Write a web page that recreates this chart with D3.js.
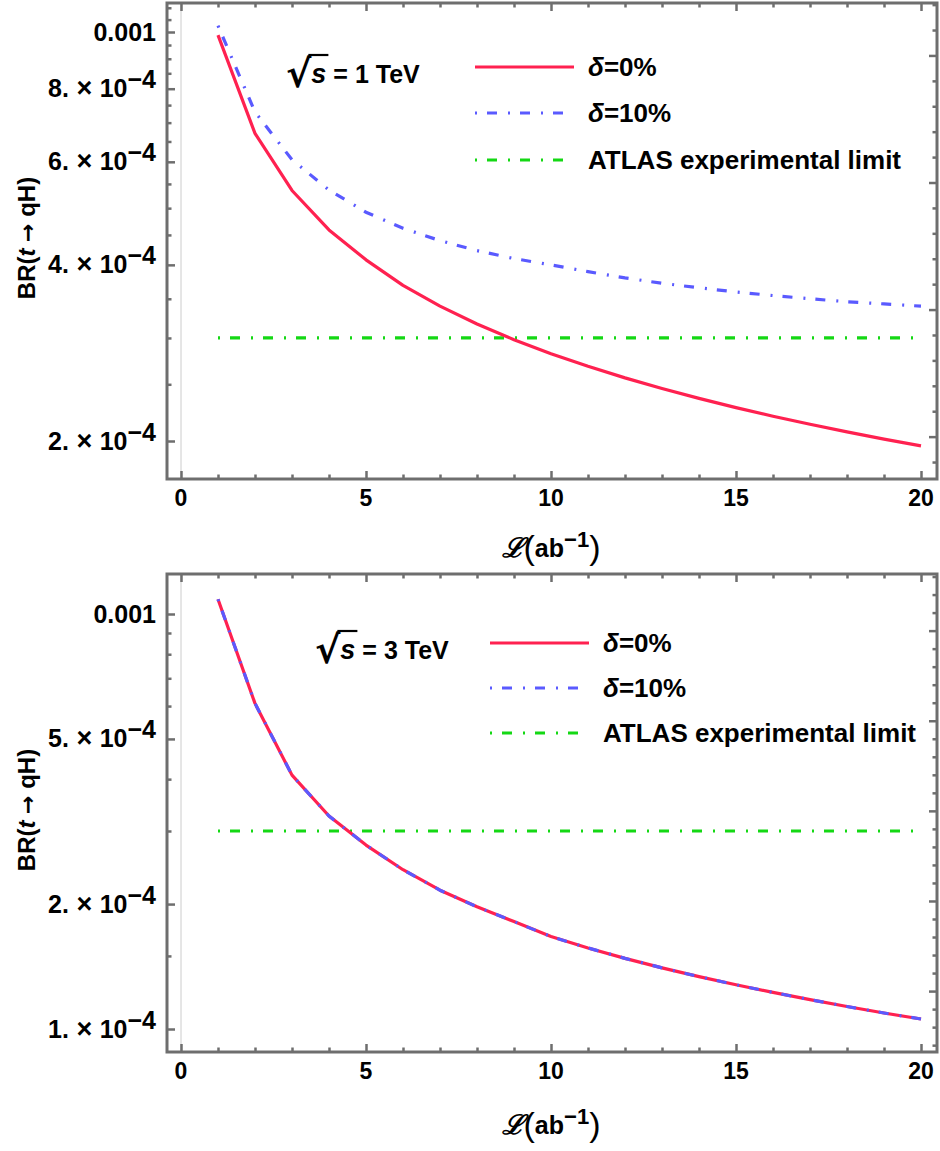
<!DOCTYPE html>
<html><head><meta charset="utf-8">
<script src="https://cdn.jsdelivr.net/npm/d3@7"></script>
<style>
body{margin:0;background:#fff}
svg{display:block}
text{font-family:"Liberation Sans",Arial,sans-serif;font-weight:bold;fill:#000}
</style>
</head><body><svg id="c" width="940" height="1151"></svg>
<script>
// ---------------- DATA ----------------
const lumi = [1,2,3,4,5,6,7,8,9,10,11,12,13,14,15,16,17,18,19,20];
// sqrt(s) = 1 TeV
const br1_d0  = [9.88e-4,6.71e-4,5.36e-4,4.59e-4,4.08e-4,3.69e-4,3.40e-4,3.17e-4,2.98e-4,2.82e-4,
                 2.683e-4,2.564e-4,2.459e-4,2.365e-4,2.281e-4,2.205e-4,2.136e-4,2.073e-4,2.015e-4,1.962e-4];
const br1_d10 = [1.025e-3,7.30e-4,6.05e-4,5.37e-4,4.92e-4,4.62e-4,4.40e-4,4.23e-4,4.10e-4,4.00e-4,
                 3.895e-4,3.80e-4,3.72e-4,3.655e-4,3.595e-4,3.545e-4,3.50e-4,3.46e-4,3.43e-4,3.40e-4];
// sqrt(s) = 3 TeV
const br3_d0  = [1.085e-3,6.09e-4,4.09e-4,3.26e-4,2.775e-4,2.42e-4,2.16e-4,1.97e-4,1.815e-4,1.67e-4,
                 1.568e-4,1.48e-4,1.404e-4,1.337e-4,1.278e-4,1.225e-4,1.177e-4,1.133e-4,1.093e-4,1.057e-4];
const br3_d10 = [1.085e-3,6.09e-4,4.09e-4,3.26e-4,2.775e-4,2.42e-4,2.16e-4,1.97e-4,1.815e-4,1.67e-4,
                 1.568e-4,1.48e-4,1.404e-4,1.337e-4,1.278e-4,1.225e-4,1.177e-4,1.133e-4,1.093e-4,1.057e-4];
const atlasLimit = 3.0e-4;

const legendLabels = ["=0%", "=10%", "ATLAS experimental limit"];
const energies = ["1", "3"];

const xMajor = [0,5,10,15,20];
const xMinor = [1,2,3,4,6,7,8,9,11,12,13,14,16,17,18,19];

const yMajor1 = [2e-4,4e-4,6e-4,8e-4,1e-3];
const yLab1   = [["2.","−4"],["4.","−4"],["6.","−4"],["8.","−4"],["0.001",null]];
const yMinor1 = [2.5e-4,3e-4,3.5e-4,4.5e-4,5e-4,5.5e-4,6.5e-4,7e-4,7.5e-4,8.5e-4,9e-4,9.5e-4,1.05e-3,1.1e-3];
const lnMajor1 = [-8.5,-8,-7.5,-7];
const lnRange1 = [-8.6,-6.8];

const yMajor3 = [1e-4,2e-4,5e-4,1e-3];
const yLab3   = [["1.","−4"],["2.","−4"],["5.","−4"],["0.001",null]];
const yMinor3 = [1.5e-4,3e-4,4e-4,6e-4,7e-4,8e-4,9e-4];
const lnMajor3 = [-9,-8.5,-8,-7.5,-7];
const lnRange3 = [-9.3,-6.7];

// ---------------- STYLE / LAYOUT ----------------
const RED = "#ff2150", BLUE = "#5a5aff", GREEN = "#14d814", FRAME = "#6e6e6e";
const DASH = "2,10,10,11";
const svg = d3.select("#c");

const panels = [
  {f:{l:167,r:937,t:3,b:479}, yRng:[441,32], yDom:[2e-4,1e-3], s0:br1_d0, s10:br1_d10,
   yMajor:yMajor1, yLab:yLab1, yMinor:yMinor1, lnMajor:lnMajor1, lnRange:lnRange1,
   energy:energies[0], legX:475, legY:[67,113,160], legTx:588, sqX:286, sqY:83, ylabY:238, xlabY:557},
  {f:{l:167,r:937,t:574,b:1052}, yRng:[1029,614], yDom:[1e-4,1e-3], s0:br3_d0, s10:br3_d10,
   yMajor:yMajor3, yLab:yLab3, yMinor:yMinor3, lnMajor:lnMajor3, lnRange:lnRange3,
   energy:energies[1], legX:490, legY:[643,688,733], legTx:603, sqX:315, sqY:659, ylabY:810, xlabY:1134}
];

panels.forEach(p => {
  const f = p.f;
  const g = svg.append("g");
  const x = d3.scaleLinear().domain([0,20]).range([181,921]);
  const y = d3.scaleLog().domain(p.yDom).range(p.yRng);

  // zero axis line
  g.append("line").attr("x1",x(0)).attr("x2",x(0)).attr("y1",f.t).attr("y2",f.b)
    .attr("stroke","#cccccc").attr("stroke-width",1);

  // ticks
  function tk(axis, tr){
    g.append("g").attr("transform",tr).attr("color",FRAME).call(axis.tickFormat(""))
     .call(s=>{s.select(".domain").remove(); s.selectAll("line").attr("stroke-width",2.5);});
  }
  tk(d3.axisBottom(x).tickValues(xMajor).tickSize(-8), `translate(0,${f.b})`);
  tk(d3.axisBottom(x).tickValues(xMinor).tickSize(-4.5), `translate(0,${f.b})`);
  tk(d3.axisTop(x).tickValues(xMajor).tickSize(-8), `translate(0,${f.t})`);
  tk(d3.axisTop(x).tickValues(xMinor).tickSize(-4.5), `translate(0,${f.t})`);
  tk(d3.axisLeft(y).tickValues(p.yMajor).tickSize(-8), `translate(${f.l},0)`);
  tk(d3.axisLeft(y).tickValues(p.yMinor).tickSize(-4.5), `translate(${f.l},0)`);
  const lnAll = d3.range(Math.round(p.lnRange[0]*10), Math.round(p.lnRange[1]*10)+1).map(v=>v/10)
      .filter(v=>!p.lnMajor.some(m=>Math.abs(m-v)<1e-9));
  tk(d3.axisRight(y).tickValues(p.lnMajor.map(Math.exp)).tickSize(-8), `translate(${f.r},0)`);
  tk(d3.axisRight(y).tickValues(lnAll.map(Math.exp)).tickSize(-4.5), `translate(${f.r},0)`);

  // frame
  g.append("rect").attr("x",f.l).attr("y",f.t).attr("width",f.r-f.l).attr("height",f.b-f.t)
    .attr("fill","none").attr("stroke",FRAME).attr("stroke-width",3);

  // x tick labels
  g.selectAll(".xl").data(xMajor).enter().append("text")
    .attr("x",d=>x(d)).attr("y",f.b+27).attr("text-anchor","middle")
    .attr("font-size",23).text(d=>d);

  // y tick labels
  p.yMajor.forEach((v,i)=>{
    const lab = p.yLab[i];
    const t = g.append("text").attr("x",156).attr("y",y(v)+8.5).attr("text-anchor","end").attr("font-size",25);
    if(lab[1]===null){ t.text(lab[0]); }
    else {
      t.append("tspan").text(lab[0]);
      t.append("tspan").attr("font-size",27).text(" × ");
      t.append("tspan").text("10");
      t.append("tspan").attr("dy",-9).text(lab[1]);
    }
  });

  // lines
  const line = d3.line().x(d=>x(d[0])).y(d=>y(d[1]));
  const lim = [[lumi[0],atlasLimit],[lumi[lumi.length-1],atlasLimit]];
  g.append("path").attr("d",line(lim)).attr("fill","none").attr("stroke",GREEN)
    .attr("stroke-width",3.2).attr("stroke-dasharray",DASH);
  g.append("path").attr("d",line(lumi.map((l,i)=>[l,p.s0[i]]))).attr("fill","none")
    .attr("stroke",RED).attr("stroke-width",3.2).attr("stroke-linejoin","round");
  g.append("path").attr("d",line(lumi.map((l,i)=>[l,p.s10[i]]))).attr("fill","none")
    .attr("stroke",BLUE).attr("stroke-width",3.2).attr("stroke-dasharray",DASH);

  // legend
  const cols = [RED,BLUE,GREEN];
  cols.forEach((c,i)=>{
    const ly = p.legY[i];
    const ln = g.append("line").attr("x1",p.legX).attr("x2",p.legX+99).attr("y1",ly).attr("y2",ly)
      .attr("stroke",c).attr("stroke-width",3.2);
    if(i>0) ln.attr("stroke-dasharray",DASH);
    const t = g.append("text").attr("x",p.legTx).attr("y",ly+9).attr("font-size",26);
    if(i<2){
      t.append("tspan").attr("font-style","italic").text("δ");
    }
    t.append("tspan").text(legendLabels[i]);
  });

  // sqrt(s) label
  const st = g.append("text").attr("x",p.sqX).attr("y",p.sqY).attr("font-size",25);
  st.append("tspan").attr("font-size",38).attr("font-family","DejaVu Sans").attr("font-weight","bold").attr("dy",4).text("√");
  st.append("tspan").attr("font-style","italic").attr("font-size",27).attr("dy",-4).text("s");
  st.append("tspan").text(" = " + p.energy + " TeV");
  const n = st.node();
  const e0 = n.getExtentOfChar(0), e1 = n.getExtentOfChar(1);
  g.append("line").attr("x1",e0.x+e0.width-3).attr("x2",e1.x+e1.width+2)
    .attr("y1",p.sqY-28).attr("y2",p.sqY-28).attr("stroke","#000").attr("stroke-width",2.2);

  // axis labels
  const xl = g.append("text").attr("x",x(10)).attr("y",p.xlabY).attr("text-anchor","middle").attr("font-size",25);
  xl.append("tspan").attr("font-family","DejaVu Serif").attr("font-style","italic").attr("font-size",27).text("ℒ");
  xl.append("tspan").attr("font-size",34).attr("font-weight","normal").attr("dy",2).text("(");
  xl.append("tspan").attr("dy",-2).text("ab");
  xl.append("tspan").attr("font-size",22).attr("dy",-10).text("−1");
  xl.append("tspan").attr("font-size",34).attr("font-weight","normal").attr("dy",12).text(")");

  const yl = g.append("text").attr("text-anchor","middle").attr("font-size",24)
    .attr("transform",`translate(35,${p.ylabY}) rotate(-90)`);
  yl.append("tspan").text("BR(");
  yl.append("tspan").attr("font-style","italic").text("t");
  yl.append("tspan").text(" ");
  yl.append("tspan").attr("font-family","DejaVu Sans").attr("font-size",22).text("→");
  yl.append("tspan").text(" qH)");
});
</script></body></html>
